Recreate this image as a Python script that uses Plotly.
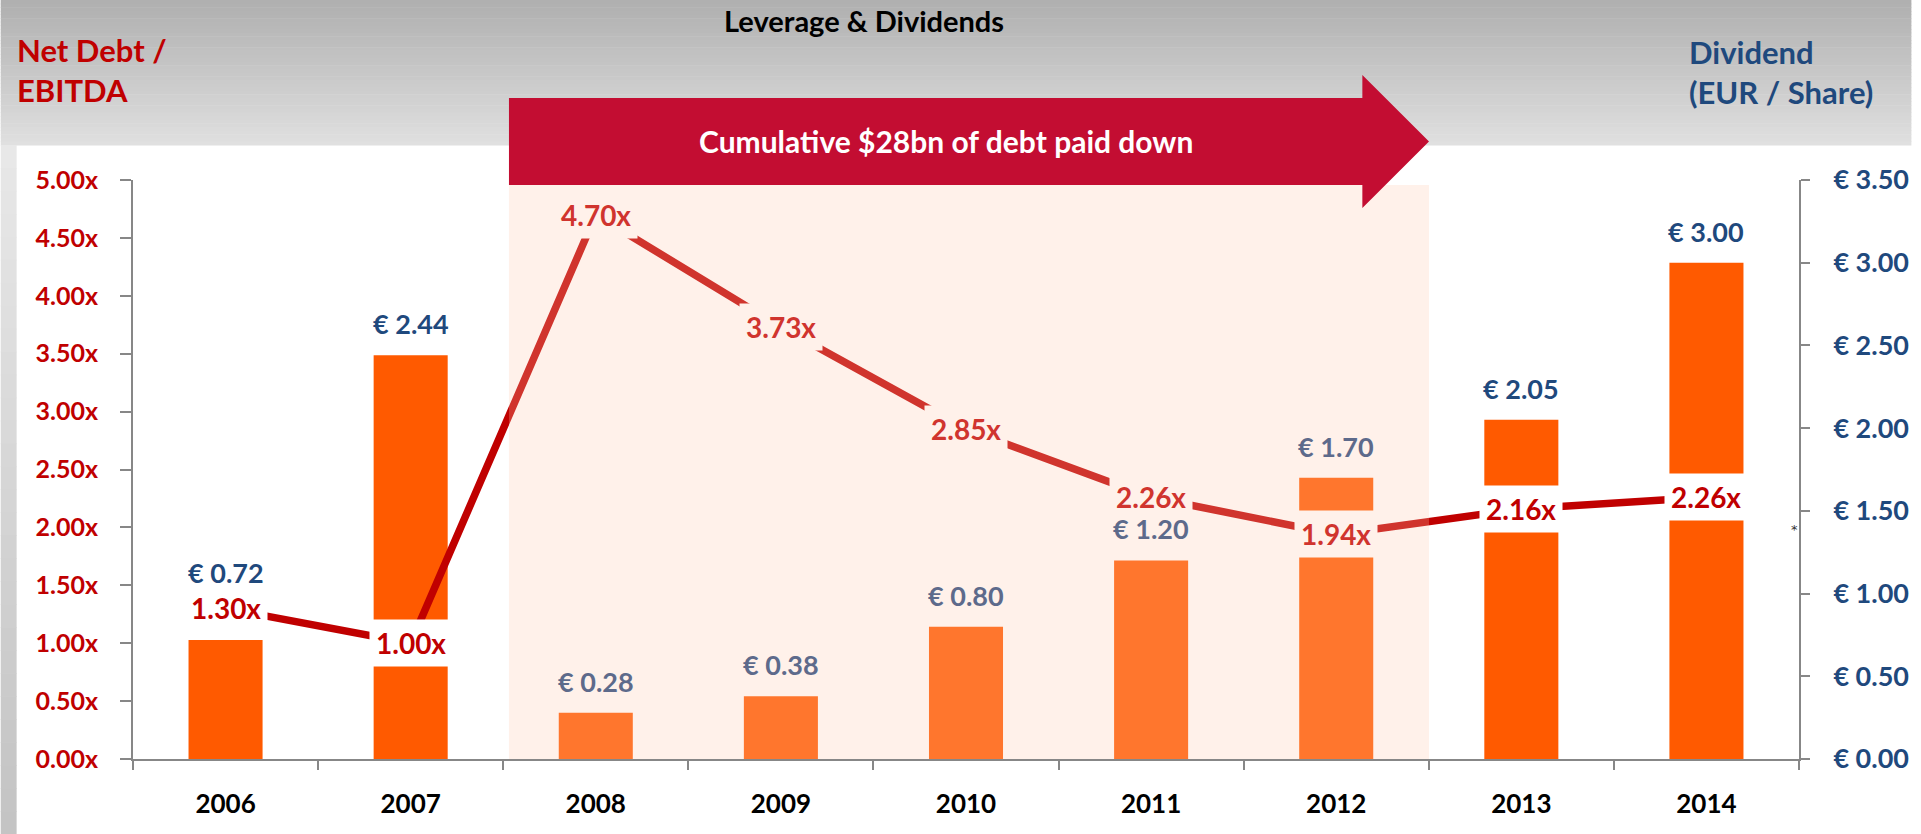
import plotly.graph_objects as go

# ---------------- data ----------------
years = ["2006", "2007", "2008", "2009", "2010", "2011", "2012", "2013", "2014"]
dividend_eur = [0.72, 2.44, 0.28, 0.38, 0.80, 1.20, 1.70, 2.05, 3.00]
net_debt_ebitda = [1.30, 1.00, 4.70, 3.73, 2.85, 2.26, 1.94, 2.16, 2.26]
paydown_years = ["2008", "2009", "2010", "2011", "2012"]

lev_ticks = [0.0, 0.5, 1.0, 1.5, 2.0, 2.5, 3.0, 3.5, 4.0, 4.5, 5.0]
div_ticks = [0.0, 0.5, 1.0, 1.5, 2.0, 2.5, 3.0, 3.5]

title_text = "Leverage & Dividends"
left_title = "Net Debt /<br>EBITDA"
right_title = "Dividend<br>(EUR / Share)"
arrow_text = "Cumulative $28bn of debt paid down"

# ---------------- styling / geometry ----------------
W, H = 1921, 834
L, R, T, B = 133, 1808, 180, 759
FONT = "Lato"
RED = "#C00000"
BLUE = "#1F497D"
ORANGE = "#FF5A00"
GRAY_AX = "#878787"
OVERLAY = "rgba(255,202,175,0.26)"
RED_SHADED = "#D0342E"
BLUE_SHADED = "#5D6A8B"
BG_SHADED = "#FFF1EA"


def px(x):
    return (x - L) / (R - L)


def py(y):
    return (B - y) / (B - T)


fig = go.Figure()

fig.add_trace(go.Bar(
    x=years, y=dividend_eur, yaxis="y", width=0.4,
    marker=dict(color=ORANGE, line=dict(width=0)),
    hoverinfo="skip", showlegend=False,
))
fig.add_trace(go.Scatter(
    x=years, y=net_debt_ebitda, yaxis="y2", mode="lines",
    line=dict(color=RED, width=7.5),
    hoverinfo="skip", showlegend=False,
))

shapes = []
# top gray gradient
n = 40
top_h = 145
for i in range(n):
    y0 = top_h * i / n
    y1 = top_h * (i + 1) / n + 0.6
    t = i / (n - 1)
    c = int(176 + (224 - 176) * t)
    shapes.append(dict(type="rect", xref="paper", yref="paper", layer="below",
                       x0=px(0), x1=px(W), y0=py(y1), y1=py(y0),
                       fillcolor=f"rgb({c},{c},{c})", line=dict(width=0)))
# left gray strip
m = 30
for i in range(m):
    y0 = top_h + (H - top_h) * i / m
    y1 = top_h + (H - top_h) * (i + 1) / m + 0.6
    t = i / (m - 1)
    c = int(232 + (196 - 232) * t)
    shapes.append(dict(type="rect", xref="paper", yref="paper", layer="below",
                       x0=px(0), x1=px(16), y0=py(y1), y1=py(y0),
                       fillcolor=f"rgb({c},{c},{c})", line=dict(width=0)))

# shaded pay-down period (semi transparent overlay)
shapes.append(dict(type="rect", xref="paper", yref="paper", layer="above",
                   x0=px(511), x1=px(1436), y0=0, y1=py(185),
                   fillcolor=OVERLAY, line=dict(width=0)))

# arrow
pts = [(511, 98), (1369, 98), (1369, 75), (1436, 141.5), (1369, 208), (1369, 185), (511, 185)]
path = "M " + " L ".join(f"{px(a):.5f},{py(b):.5f}" for a, b in pts) + " Z"
shapes.append(dict(type="path", xref="paper", yref="paper", layer="above",
                   path=path, fillcolor="#C30D32", line=dict(width=0)))

annotations = []
# leverage labels (boxed, interrupting the line)
for i, (yr, v) in enumerate(zip(years, net_debt_ebitda)):
    shaded = yr in paydown_years
    annotations.append(dict(
        x=i, y=v, xref="x", yref="y2", text=f"{v:.2f}x", showarrow=False,
        font=dict(family=FONT, size=28, color=RED_SHADED if shaded else RED, weight="bold"),
        bgcolor=BG_SHADED if shaded else "white", borderpad=6,
        xanchor="center", yanchor="middle",
    ))

# dividend labels
label_lift = {"2006": 49}
for i, (yr, v) in enumerate(zip(years, dividend_eur)):
    shaded = yr in paydown_years
    annotations.append(dict(
        x=i, y=v, xref="x", yref="y", text=f"€ {v:.2f}", showarrow=False,
        font=dict(family=FONT, size=27, color=BLUE_SHADED if shaded else BLUE, weight="bold"),
        xanchor="center", yanchor="bottom", yshift=label_lift.get(yr, 13),
    ))

# titles
annotations.append(dict(x=px(868), y=py(21), xref="paper", yref="paper", text=title_text,
                        showarrow=False, xanchor="center", yanchor="middle",
                        font=dict(family=FONT, size=29, color="black", weight="bold")))
annotations.append(dict(x=px(14), y=py(70), xref="paper", yref="paper", text=left_title,
                        showarrow=False, xanchor="left", yanchor="middle", align="left",
                        font=dict(family=FONT, size=31, color=RED, weight="bold")))
annotations.append(dict(x=px(1695), y=py(72), xref="paper", yref="paper", text=right_title,
                        showarrow=False, xanchor="left", yanchor="middle", align="left",
                        font=dict(family=FONT, size=31, color=BLUE, weight="bold")))
annotations.append(dict(x=px(950), y=py(141), xref="paper", yref="paper", text=arrow_text,
                        showarrow=False, xanchor="center", yanchor="middle",
                        font=dict(family=FONT, size=30, color="white", weight="bold")))
annotations.append(dict(x=px(1803), y=py(529), xref="paper", yref="paper", text="*",
                        showarrow=False, xanchor="center", yanchor="middle",
                        font=dict(family="DejaVu Sans", size=13, color="#333333")))

axis_common = dict(showgrid=False, zeroline=False, showline=True, linecolor=GRAY_AX,
                   linewidth=2, ticks="outside", tickcolor=GRAY_AX, tickwidth=2)

fig.update_layout(
    width=W, height=H, autosize=False,
    margin=dict(l=L, r=W - R, t=T, b=H - B, pad=0),
    paper_bgcolor="white", plot_bgcolor="rgba(0,0,0,0)",
    showlegend=False, bargap=0.6,
    shapes=shapes, annotations=annotations,
    xaxis=dict(type="category", categoryorder="array", categoryarray=years,
               range=[-0.5, len(years) - 0.5], tickson="boundaries", ticklen=9,
               ticklabelstandoff=21,
               tickfont=dict(family=FONT, size=26, color="black", weight="bold"),
               **axis_common),
    yaxis=dict(side="right", range=[0, 3.5], tickvals=div_ticks,
               ticktext=[f"€ {v:.2f}" for v in div_ticks], ticklen=9,
               ticklabelstandoff=18,
               tickfont=dict(family=FONT, size=27, color=BLUE, weight="bold"),
               **axis_common),
    yaxis2=dict(side="left", overlaying="y", range=[0, 5], tickvals=lev_ticks,
                ticktext=[f"{v:.2f}x" for v in lev_ticks], ticklen=11,
                ticklabelstandoff=17,
                tickfont=dict(family=FONT, size=25, color=RED, weight="bold"),
                **axis_common),
)

fig.write_html("out.html", config={"displayModeBar": False},
               post_script="document.body.style.margin='0';document.body.style.overflow='hidden';")
